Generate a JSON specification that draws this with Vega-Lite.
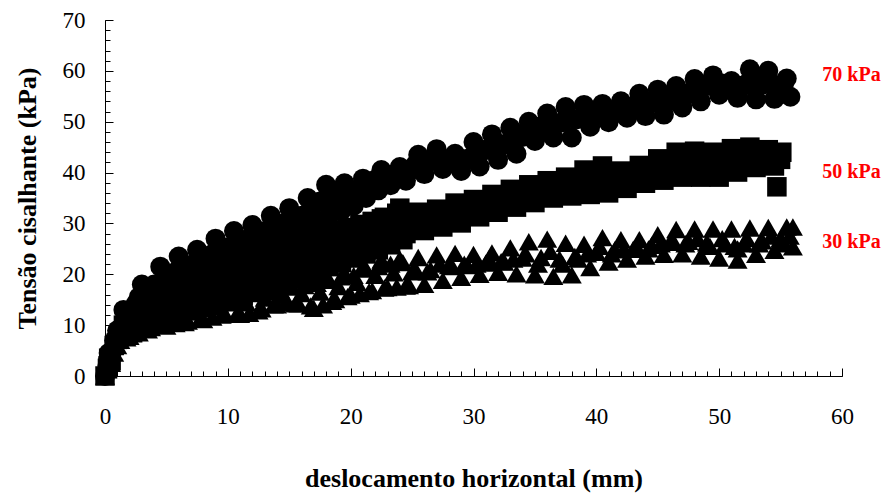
{
  "$schema": "https://vega.github.io/schema/vega-lite/v6.json",
  "width": 737,
  "height": 356,
  "autosize": "none",
  "padding": {"left": 105, "top": 20, "right": 45, "bottom": 119},
  "background": "white",
  "config": {"view": {"stroke": null}, "font": "Times New Roman, Liberation Serif, serif"},
  "resolve": {"axis": {"x": "independent", "y": "independent"}},
  "layer": [
    {
      "data": {"values": [{"x":0,"y":0},{"x":0.2,"y":2},{"x":0.3,"y":4.5},{"x":0.5,"y":4},{"x":1,"y":9},{"x":1.5,"y":13},{"x":2,"y":11},{"x":2.5,"y":14.2},{"x":3,"y":18},{"x":3.5,"y":14},{"x":4,"y":18},{"x":4.5,"y":21.5},{"x":5,"y":17},{"x":5.5,"y":20},{"x":6,"y":23.5},{"x":6.5,"y":18.5},{"x":7,"y":21.8},{"x":7.5,"y":24.8},{"x":8,"y":20.5},{"x":8.5,"y":23.5},{"x":9,"y":27},{"x":9.5,"y":22},{"x":10,"y":25.3},{"x":10.5,"y":28.5},{"x":11,"y":23.5},{"x":11.5,"y":26.8},{"x":12,"y":29.7},{"x":12.5,"y":25.5},{"x":13,"y":28.5},{"x":13.5,"y":31.5},{"x":14,"y":27},{"x":14.5,"y":30},{"x":15,"y":33},{"x":15.5,"y":28.5},{"x":16,"y":31.5},{"x":16.5,"y":35},{"x":17,"y":31},{"x":17.5,"y":34.3},{"x":18,"y":37.6},{"x":18.5,"y":32.8},{"x":19,"y":35.6},{"x":19.5,"y":37.9},{"x":20,"y":34.3},{"x":20.5,"y":36.5},{"x":21,"y":38.8},{"x":21.5,"y":36.4},{"x":22,"y":38.6},{"x":22.5,"y":40.5},{"x":23,"y":37.8},{"x":23.5,"y":39.5},{"x":24,"y":41.1},{"x":24.5,"y":38.4},{"x":25,"y":40.6},{"x":25.5,"y":43.5},{"x":26,"y":39.7},{"x":26.5,"y":42.4},{"x":27,"y":44.6},{"x":27.5,"y":40.7},{"x":28,"y":42.2},{"x":28.5,"y":43.7},{"x":29,"y":40.3},{"x":29.5,"y":42.7},{"x":30,"y":46},{"x":30.5,"y":41.2},{"x":31,"y":44.4},{"x":31.5,"y":47.5},{"x":32,"y":42.5},{"x":32.5,"y":45.6},{"x":33,"y":48.8},{"x":33.5,"y":43.7},{"x":34,"y":47},{"x":34.5,"y":50},{"x":35,"y":46.2},{"x":35.5,"y":49.1},{"x":36,"y":51.6},{"x":36.5,"y":46.9},{"x":37,"y":49.7},{"x":37.5,"y":52.9},{"x":38,"y":46.9},{"x":38.5,"y":50.5},{"x":39,"y":53.3},{"x":39.5,"y":49},{"x":40,"y":51.3},{"x":40.5,"y":53.5},{"x":41,"y":49.9},{"x":41.5,"y":52},{"x":42,"y":54},{"x":42.5,"y":50.8},{"x":43,"y":53},{"x":43.5,"y":55.5},{"x":44,"y":51.1},{"x":44.5,"y":53.7},{"x":45,"y":56.3},{"x":45.5,"y":51.4},{"x":46,"y":54.2},{"x":46.5,"y":57},{"x":47,"y":52.8},{"x":47.5,"y":55.5},{"x":48,"y":58.4},{"x":48.5,"y":54},{"x":49,"y":57},{"x":49.5,"y":59.1},{"x":50,"y":55.3},{"x":50.5,"y":56.8},{"x":51,"y":58},{"x":51.5,"y":54.7},{"x":52,"y":57.1},{"x":52.5,"y":60.3},{"x":53,"y":54.4},{"x":53.5,"y":57.3},{"x":54,"y":60},{"x":54.5,"y":54.5},{"x":55,"y":56.8},{"x":55.5,"y":58.5},{"x":55.8,"y":54.9},
        {"x":0.25,"y":3},{"x":0.75,"y":7},{"x":1.25,"y":9},{"x":1.75,"y":12},{"x":2.25,"y":12.5},{"x":2.75,"y":15.5},{"x":3.25,"y":14},{"x":3.75,"y":17.5},{"x":4.25,"y":15.5},{"x":4.75,"y":19},{"x":5.25,"y":17},{"x":5.75,"y":20.5},{"x":6.25,"y":18},{"x":6.75,"y":21.5},{"x":7.25,"y":19},{"x":7.75,"y":22.5},{"x":8.25,"y":20},{"x":8.75,"y":24},{"x":9.25,"y":21},{"x":9.75,"y":25},{"x":10.25,"y":22},{"x":10.75,"y":26},{"x":11.25,"y":23},{"x":11.75,"y":27},{"x":12.25,"y":24.5},{"x":12.75,"y":28},{"x":13.25,"y":25.5},{"x":13.75,"y":29},{"x":14.25,"y":26.5},{"x":14.75,"y":30},{"x":15.25,"y":27.5},{"x":15.75,"y":31},{"x":16.25,"y":28.5},{"x":16.75,"y":33},{"x":17.25,"y":30.5},{"x":17.75,"y":34.5},{"x":18.25,"y":31.5},{"x":18.75,"y":35.5},{"x":19.25,"y":32.5},{"x":19.75,"y":36},{"x":20.25,"y":33.5},{"x":20.75,"y":37},{"x":21.25,"y":35},{"x":21.75,"y":38},{"x":22.25,"y":36.5},{"x":22.75,"y":39.5},{"x":23.25,"y":37.5},{"x":23.75,"y":40},
        {"x":24.25,"y":39.8},{"x":25.25,"y":41.5},{"x":26.25,"y":42},{"x":27.25,"y":42.8},{"x":28.25,"y":42},{"x":29.25,"y":42.3},{"x":30.25,"y":43.5},{"x":31.25,"y":44.8},{"x":32.25,"y":45.2},{"x":33.25,"y":46.2},{"x":34.25,"y":48},{"x":35.25,"y":48.5},{"x":36.25,"y":49.3},{"x":37.25,"y":50},{"x":38.25,"y":50.5},{"x":39.25,"y":51},{"x":40.25,"y":51.5},{"x":41.25,"y":51.8},{"x":42.25,"y":52.4},{"x":43.25,"y":53.2},{"x":44.25,"y":53.7},{"x":45.25,"y":54},{"x":46.25,"y":55},{"x":47.25,"y":55.5},{"x":48.25,"y":56.5},{"x":49.25,"y":57.4},{"x":50.25,"y":57.5},{"x":51.25,"y":56.5},{"x":52.25,"y":57.5},{"x":53.25,"y":58},{"x":54.25,"y":57.5},{"x":55.25,"y":57}]},
      "mark": {"type": "point", "shape": "circle", "filled": true, "color": "black", "opacity": 1, "size": 400},
      "encoding": {
        "x": {"field": "x", "type": "quantitative", "scale": {"domain": [0, 60], "nice": false},
          "axis": {"orient": "bottom", "values": [0,10,20,30,40,50,60], "tickSize": -8, "tickColor": "black", "domainColor": "black", "grid": false, "labelFont": "Times New Roman, Liberation Serif, serif", "labelFontSize": 23, "labelColor": "black", "labelPadding": 37, "labelFlush": false, "title": "deslocamento horizontal (mm)", "titleFont": "Times New Roman, Liberation Serif, serif", "titleFontSize": 26, "titleFontWeight": "bold", "titleColor": "black", "titlePadding": 37}},
        "y": {"field": "y", "type": "quantitative", "scale": {"domain": [0, 70], "nice": false},
          "axis": {"orient": "left", "values": [0,10,20,30,40,50,60,70], "tickSize": -8, "tickColor": "black", "domainColor": "black", "grid": false, "labelFont": "Times New Roman, Liberation Serif, serif", "labelFontSize": 23, "labelColor": "black", "labelPadding": 28, "labelFlush": false, "title": "Tensão cisalhante (kPa)", "titleFont": "Times New Roman, Liberation Serif, serif", "titleFontSize": 26, "titleFontWeight": "bold", "titleColor": "black", "titlePadding": 22}}
      }
    },
    {
      "data": {"values": [{"x":0,"y":0},{"x":0.2,"y":1.5},{"x":0.3,"y":3.5},{"x":0.5,"y":3},{"x":1,"y":7.2},{"x":1.5,"y":10},{"x":2,"y":9},{"x":2.5,"y":10.9},{"x":3,"y":13},{"x":3.5,"y":11},{"x":4,"y":12.8},{"x":4.5,"y":14.5},{"x":5,"y":12},{"x":5.5,"y":14},{"x":6,"y":16},{"x":6.5,"y":13.2},{"x":7,"y":15.3},{"x":7.5,"y":17.5},{"x":8,"y":14.4},{"x":8.5,"y":16.6},{"x":9,"y":19},{"x":9.5,"y":15.6},{"x":10,"y":18},{"x":10.5,"y":20.3},{"x":11,"y":16.8},{"x":11.5,"y":19.2},{"x":12,"y":22},{"x":12.5,"y":18},{"x":13,"y":20.5},{"x":13.5,"y":23},{"x":14,"y":19.2},{"x":14.5,"y":21.6},{"x":15,"y":24},{"x":15.5,"y":20.4},{"x":16,"y":22.9},{"x":16.5,"y":25.5},{"x":17,"y":21.6},{"x":17.5,"y":24.3},{"x":18,"y":27.2},{"x":18.5,"y":22.8},{"x":19,"y":25.8},{"x":19.5,"y":28.7},{"x":20,"y":24},{"x":20.5,"y":26.8},{"x":21,"y":29.6},{"x":21.5,"y":25.2},{"x":22,"y":28},{"x":22.5,"y":30.9},{"x":23,"y":26.6},{"x":23.5,"y":29.6},{"x":24,"y":33},{"x":24.5,"y":28},{"x":25,"y":30.4},{"x":25.5,"y":32.2},{"x":26,"y":28.6},{"x":26.5,"y":30.6},{"x":27,"y":32.8},{"x":27.5,"y":29.3},{"x":28,"y":31.5},{"x":28.5,"y":34},{"x":29,"y":30.1},{"x":29.5,"y":32.5},{"x":30,"y":34.7},{"x":30.5,"y":31.3},{"x":31,"y":33.4},{"x":31.5,"y":35.7},{"x":32,"y":32.2},{"x":32.5,"y":34.4},{"x":33,"y":36.7},{"x":33.5,"y":33.2},{"x":34,"y":35.4},{"x":34.5,"y":37.6},{"x":35,"y":34.1},{"x":35.5,"y":36.2},{"x":36,"y":38.4},{"x":36.5,"y":35},{"x":37,"y":37},{"x":37.5,"y":39.1},{"x":38,"y":35.4},{"x":38.5,"y":37.7},{"x":39,"y":40.5},{"x":39.5,"y":35.7},{"x":40,"y":38.6},{"x":40.5,"y":41.3},{"x":41,"y":36},{"x":41.5,"y":38.2},{"x":42,"y":40.3},{"x":42.5,"y":36.9},{"x":43,"y":39.1},{"x":43.5,"y":41.4},{"x":44,"y":37.9},{"x":44.5,"y":40.2},{"x":45,"y":42.7},{"x":45.5,"y":38.5},{"x":46,"y":41.1},{"x":46.5,"y":44},{"x":47,"y":39.1},{"x":47.5,"y":42},{"x":48,"y":44.2},{"x":48.5,"y":39.1},{"x":49,"y":41.3},{"x":49.5,"y":44},{"x":50,"y":39.1},{"x":50.5,"y":42},{"x":51,"y":44.7},{"x":51.5,"y":40.1},{"x":52,"y":42.7},{"x":52.5,"y":45},{"x":53,"y":41},{"x":53.5,"y":43},{"x":54,"y":44.5},{"x":54.5,"y":41.3},{"x":55,"y":42.6},{"x":54.7,"y":37.2},{"x":55.1,"y":44},
        {"x":0.25,"y":2},{"x":0.75,"y":6},{"x":1.25,"y":8},{"x":1.75,"y":10.5},{"x":2.25,"y":8.5},{"x":2.75,"y":13},{"x":3.25,"y":10},{"x":3.75,"y":15},{"x":4.25,"y":10.8},{"x":4.75,"y":16},{"x":5.25,"y":11.5},{"x":5.75,"y":17},{"x":6.25,"y":12},{"x":6.75,"y":18},{"x":7.25,"y":12.8},{"x":7.75,"y":19},{"x":8.25,"y":13.5},{"x":8.75,"y":20},{"x":9.25,"y":14.3},{"x":9.75,"y":21.3},{"x":10.25,"y":15},{"x":10.75,"y":22},{"x":11.25,"y":15.8},{"x":11.75,"y":23},{"x":12.25,"y":16.7},{"x":12.75,"y":24},{"x":13.25,"y":17.5},{"x":13.75,"y":25},{"x":14.25,"y":18.3},{"x":14.75,"y":26},{"x":15.25,"y":19.2},{"x":15.75,"y":26.5},{"x":16.25,"y":20},{"x":16.75,"y":27.3},{"x":17.25,"y":20.7},{"x":17.75,"y":28},{"x":18.25,"y":21.5},{"x":18.75,"y":28.6},{"x":19.25,"y":22.3},{"x":19.75,"y":29.2},{"x":20.25,"y":23.2},{"x":20.75,"y":29.8},{"x":21.25,"y":24},{"x":21.75,"y":30.4},{"x":22.25,"y":24.8},{"x":22.75,"y":31.2},{"x":23.25,"y":25.8},{"x":23.75,"y":32},{"x":24.25,"y":26.8},{"x":24.75,"y":31.5},
        {"x":25.25,"y":30.3},{"x":26.25,"y":30.6},{"x":27.25,"y":31},{"x":28.25,"y":32},{"x":29.25,"y":32.3},{"x":30.25,"y":33},{"x":31.25,"y":33.5},{"x":32.25,"y":34.3},{"x":33.25,"y":35},{"x":34.25,"y":35.5},{"x":35.25,"y":36},{"x":36.25,"y":36.8},{"x":37.25,"y":37.2},{"x":38.25,"y":37.6},{"x":39.25,"y":38},{"x":40.25,"y":38.6},{"x":41.25,"y":38.5},{"x":42.25,"y":38.5},{"x":43.25,"y":39.3},{"x":44.25,"y":40},{"x":45.25,"y":40.6},{"x":46.25,"y":41.5},{"x":47.25,"y":42},{"x":48.25,"y":41.7},{"x":49.25,"y":41.6},{"x":50.25,"y":41.8},{"x":51.25,"y":42.4},{"x":52.25,"y":42.9},{"x":53.25,"y":43.1},{"x":54.25,"y":42.8}]},
      "mark": {"type": "point", "shape": "square", "filled": true, "color": "black", "opacity": 1, "size": 380},
      "encoding": {
        "x": {"field": "x", "type": "quantitative", "scale": {"domain": [0, 60], "nice": false},
          "axis": {"orient": "bottom", "values": [0,1,2,3,4,5,6,7,8,9,10,11,12,13,14,15,16,17,18,19,20,21,22,23,24,25,26,27,28,29,30,31,32,33,34,35,36,37,38,39,40,41,42,43,44,45,46,47,48,49,50,51,52,53,54,55,56,57,58,59,60], "tickSize": -5, "tickColor": "black", "domain": false, "labels": false, "grid": false, "title": null}},
        "y": {"field": "y", "type": "quantitative", "scale": {"domain": [0, 70], "nice": false},
          "axis": {"orient": "left", "values": [0,2,4,6,8,10,12,14,16,18,20,22,24,26,28,30,32,34,36,38,40,42,44,46,48,50,52,54,56,58,60,62,64,66,68,70], "tickSize": -5, "tickColor": "black", "domain": false, "labels": false, "grid": false, "title": null}}
      }
    },
    {
      "data": {"values": [{"x":0,"y":0},{"x":0.2,"y":1.2},{"x":0.5,"y":2.5},{"x":1,"y":6},{"x":1.5,"y":8.5},{"x":2,"y":7.8},{"x":2.5,"y":9.7},{"x":3,"y":12},{"x":3.5,"y":9.1},{"x":4,"y":11.2},{"x":4.5,"y":13.5},{"x":5,"y":9.8},{"x":5.5,"y":12.1},{"x":6,"y":14.5},{"x":6.5,"y":10.5},{"x":7,"y":12.9},{"x":7.5,"y":15.3},{"x":8,"y":11.1},{"x":8.5,"y":13.6},{"x":9,"y":16},{"x":9.5,"y":12},{"x":10,"y":14.4},{"x":10.5,"y":16.6},{"x":11,"y":12.1},{"x":11.5,"y":14.4},{"x":12,"y":16.9},{"x":12.5,"y":12.8},{"x":13,"y":15.3},{"x":13.5,"y":17.4},{"x":14,"y":14},{"x":14.5,"y":16},{"x":15,"y":18},{"x":15.5,"y":14.2},{"x":16,"y":16.2},{"x":16.5,"y":18.8},{"x":17,"y":13.3},{"x":17.5,"y":16.5},{"x":18,"y":19.6},{"x":18.5,"y":14.7},{"x":19,"y":17.6},{"x":19.5,"y":20.2},{"x":20,"y":15.9},{"x":20.5,"y":18.4},{"x":21,"y":21.5},{"x":21.5,"y":16.6},{"x":22,"y":19.8},{"x":22.5,"y":22.8},{"x":23,"y":17.4},{"x":23.5,"y":20.3},{"x":24,"y":23},{"x":24.5,"y":17.7},{"x":25,"y":20.5},{"x":25.5,"y":23.3},{"x":26,"y":18},{"x":26.5,"y":20.9},{"x":27,"y":23.8},{"x":27.5,"y":18.8},{"x":28,"y":21.7},{"x":28.5,"y":24.1},{"x":29,"y":19.4},{"x":29.5,"y":21.7},{"x":30,"y":23.9},{"x":30.5,"y":20},{"x":31,"y":22.2},{"x":31.5,"y":24.2},{"x":32,"y":20.4},{"x":32.5,"y":22.4},{"x":33,"y":25.2},{"x":33.5,"y":20.1},{"x":34,"y":23.2},{"x":34.5,"y":26.4},{"x":35,"y":19.9},{"x":35.5,"y":23.3},{"x":36,"y":26.9},{"x":36.5,"y":19.6},{"x":37,"y":23},{"x":37.5,"y":26.1},{"x":38,"y":19.9},{"x":38.5,"y":23},{"x":39,"y":25.9},{"x":39.5,"y":21.3},{"x":40,"y":24.3},{"x":40.5,"y":27.2},{"x":41,"y":22.4},{"x":41.5,"y":24.8},{"x":42,"y":26.8},{"x":42.5,"y":23},{"x":43,"y":24.9},{"x":43.5,"y":26.8},{"x":44,"y":23.6},{"x":44.5,"y":25.7},{"x":45,"y":27.8},{"x":45.5,"y":23.9},{"x":46,"y":26.3},{"x":46.5,"y":28.8},{"x":47,"y":24},{"x":47.5,"y":26.5},{"x":48,"y":28.9},{"x":48.5,"y":23.6},{"x":49,"y":26.2},{"x":49.5,"y":28.9},{"x":50,"y":23.2},{"x":50.5,"y":26},{"x":51,"y":28.9},{"x":51.5,"y":22.8},{"x":52,"y":26},{"x":52.5,"y":29.1},{"x":53,"y":23.9},{"x":53.5,"y":26.6},{"x":54,"y":29.2},{"x":54.5,"y":24.7},{"x":55,"y":27},{"x":55.5,"y":29.3},{"x":56,"y":25.4},{"x":56,"y":29.3},{"x":51.5,"y":25},
        {"x":0.25,"y":1.5},{"x":0.75,"y":4.5},{"x":1.25,"y":7},{"x":1.75,"y":7.5},{"x":2.25,"y":10.5},{"x":2.75,"y":8.5},{"x":3.25,"y":11.5},{"x":3.75,"y":9.5},{"x":4.25,"y":12.5},{"x":4.75,"y":10},{"x":5.25,"y":13},{"x":5.75,"y":10.3},{"x":6.25,"y":13.5},{"x":6.75,"y":10.8},{"x":7.25,"y":14},{"x":7.75,"y":11.2},{"x":8.25,"y":14.8},{"x":8.75,"y":11.6},{"x":9.25,"y":15},{"x":9.75,"y":12.2},{"x":10.25,"y":15.5},{"x":10.75,"y":12.2},{"x":11.25,"y":16},{"x":11.75,"y":12.3},{"x":12.25,"y":16.2},{"x":12.75,"y":13.2},{"x":13.25,"y":16.5},{"x":13.75,"y":14},{"x":14.25,"y":17},{"x":14.75,"y":14.4},{"x":15.25,"y":17.5},{"x":15.75,"y":14.2},{"x":16.25,"y":17.8},{"x":16.75,"y":13.8},{"x":17.25,"y":18.2},{"x":17.75,"y":14},{"x":18.25,"y":18.8},{"x":18.75,"y":15},{"x":19.25,"y":19.5},{"x":19.75,"y":15.6},{"x":20.25,"y":19.8},{"x":20.75,"y":16.2},{"x":21.25,"y":21},{"x":21.75,"y":16.8},{"x":22.25,"y":21.5},{"x":22.75,"y":17.3},{"x":23.25,"y":22},{"x":23.75,"y":17.5},{"x":24.25,"y":22.3},{"x":24.75,"y":17.8},
        {"x":25.25,"y":21},{"x":26.25,"y":20.5},{"x":27.25,"y":22},{"x":28.25,"y":21.5},{"x":29.25,"y":22},{"x":30.25,"y":22},{"x":31.25,"y":23},{"x":32.25,"y":22.5},{"x":33.25,"y":23},{"x":34.25,"y":24},{"x":35.25,"y":22},{"x":36.25,"y":24.5},{"x":37.25,"y":22},{"x":38.25,"y":23.5},{"x":39.25,"y":24},{"x":40.25,"y":25.5},{"x":41.25,"y":24},{"x":42.25,"y":25},{"x":43.25,"y":25.5},{"x":44.25,"y":25},{"x":45.25,"y":26},{"x":46.25,"y":26.5},{"x":47.25,"y":26},{"x":48.25,"y":27},{"x":49.25,"y":25.5},{"x":50.25,"y":27},{"x":51.25,"y":25.5},{"x":52.25,"y":27},{"x":53.25,"y":26},{"x":54.25,"y":27.5},{"x":55.25,"y":26},{"x":55.75,"y":27.5}]},
      "mark": {"type": "point", "shape": "triangle-up", "filled": true, "color": "black", "opacity": 1, "size": 400},
      "encoding": {
        "x": {"field": "x", "type": "quantitative", "axis": null},
        "y": {"field": "y", "type": "quantitative", "axis": null}
      }
    },
    {
      "data": {"values": [{"label": "70 kPa", "x": 58.4, "y": 59.2}, {"label": "50 kPa", "x": 58.4, "y": 40.1}, {"label": "30 kPa", "x": 58.4, "y": 26.3}]},
      "mark": {"type": "text", "align": "left", "baseline": "middle", "font": "Times New Roman, Liberation Serif, serif", "fontSize": 20, "fontWeight": "bold", "color": "#ff0000"},
      "encoding": {
        "x": {"field": "x", "type": "quantitative", "axis": null},
        "y": {"field": "y", "type": "quantitative", "axis": null},
        "text": {"field": "label"}
      }
    }
  ]
}
